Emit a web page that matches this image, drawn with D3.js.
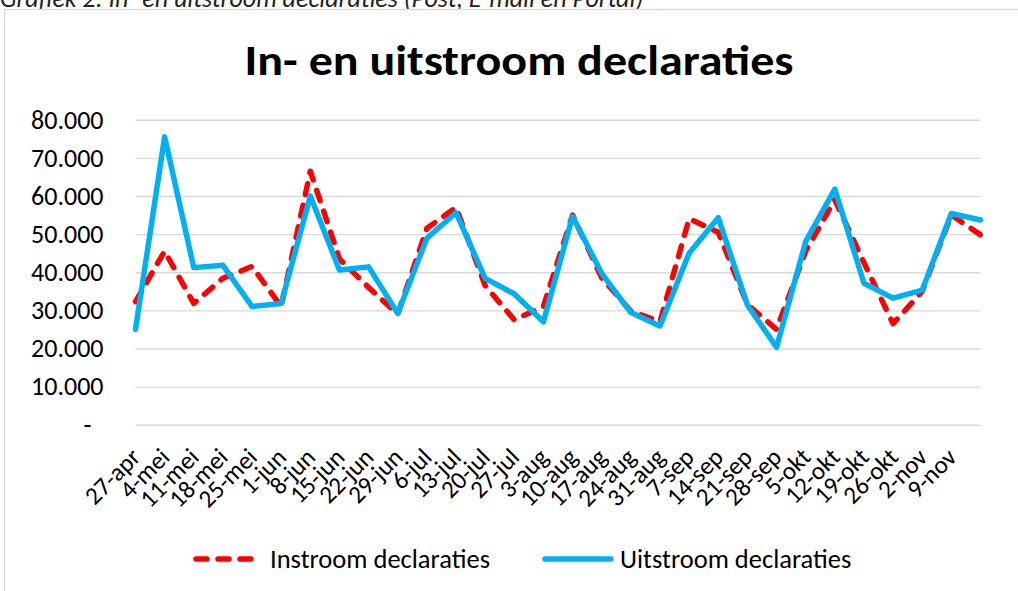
<!DOCTYPE html>
<html><head><meta charset="utf-8">
<script src="https://cdn.jsdelivr.net/npm/d3@7"></script>
<style>body{margin:0;background:#fff;overflow:hidden;} svg{display:block;}</style>
</head><body>
<svg id="chart" width="1018" height="591"></svg>
<script>
const categories = ["27-apr","4-mei","11-mei","18-mei","25-mei","1-jun","8-jun","15-jun","22-jun","29-jun",
  "6-jul","13-jul","20-jul","27-jul","3-aug","10-aug","17-aug","24-aug","31-aug","7-sep",
  "14-sep","21-sep","28-sep","5-okt","12-okt","19-okt","26-okt","2-nov","9-nov",""];
const instroom = [32300, 45500, 31800, 38400, 41500, 31000, 66500, 43500, 36000, 29000,
  51500, 57000, 36500, 27500, 31000, 55000, 38500, 29800, 27000, 54000,
  50500, 31500, 25000, 45500, 59000, 42500, 26500, 35000, 55000, 49800];
const uitstroom = [25000, 75500, 41200, 41800, 31000, 31800, 60000, 40600, 41400, 29200,
  48900, 55600, 38400, 34300, 27000, 54600, 39700, 29400, 25900, 45000,
  54300, 31400, 20300, 48000, 61800, 37100, 33200, 35300, 55400, 53700];
const yTicks = [0, 10000, 20000, 30000, 40000, 50000, 60000, 70000, 80000];
const yTickLabels = ["-", "10.000", "20.000", "30.000", "40.000", "50.000", "60.000", "70.000", "80.000"];
const seriesNames = ["Instroom declaraties", "Uitstroom declaraties"];
const chartTitle = "In- en uitstroom declaraties";
const caption = "Grafiek 2: In- en uitstroom declaraties (Post, E-mail en Portal)";

(function () {
const FONT = "Carlito, Calibri, Lato, 'Open Sans', sans-serif";
const RED = "#FF0000", BLUE = "#00B0F0";
const svg = d3.select("#chart");

// caption (cut off at top, as in the source document)
svg.append("text").attr("x", 0).attr("y", 7)
  .attr("font-family", FONT).attr("font-style", "italic").attr("font-size", 26)
  .attr("fill", "#222").text(caption);

// chart frame
svg.append("rect").attr("x", 4.5).attr("y", 9.5).attr("width", 1200).attr("height", 700)
  .attr("fill", "#fff").attr("stroke", "#d9d9d9").attr("stroke-width", 1.3);

// title
svg.append("text").attr("x", 519).attr("y", 75).attr("text-anchor", "middle")
  .attr("font-family", FONT).attr("font-weight", "bold").attr("font-size", 42)
  .attr("textLength", 549).attr("lengthAdjust", "spacingAndGlyphs")
  .attr("fill", "#000").text(chartTitle);

const pLeft = 135.5, pRight = 980.5, pTop = 119.7, pBottom = 424.7;
const x = d3.scalePoint().domain(d3.range(categories.length)).range([pLeft, pRight]);
const y = d3.scaleLinear().domain([0, 80000]).range([pBottom, pTop]);

// y axis + gridlines
const yAxis = d3.axisLeft(y).tickValues(yTicks)
  .tickSize(-(pRight - pLeft)).tickPadding(32)
  .tickFormat((d, i) => yTickLabels[i]);
const gy = svg.append("g").attr("transform", `translate(${pLeft},0)`).call(yAxis);
gy.select(".domain").remove();
gy.selectAll(".tick line").attr("stroke", "#d9d9d9").attr("stroke-width", 1.4);
gy.selectAll(".tick text").attr("font-family", FONT).attr("font-size", 26).attr("fill", "#000")
  .attr("dx", d => d === 0 ? -12 : 0);

// x axis
const xAxis = d3.axisBottom(x).tickSize(0).tickFormat(i => categories[i]);
const gx = svg.append("g").attr("transform", `translate(0,${pBottom})`).call(xAxis);
gx.select(".domain").remove();
gx.selectAll(".tick text").attr("font-family", FONT).attr("font-size", 25).attr("fill", "#000")
  .attr("text-anchor", "end").attr("x", 6).attr("y", 34).attr("dy", 0)
  .attr("transform", "rotate(-45,6,34)");

// lines
const line = d3.line().x((d, i) => x(i)).y(d => y(d));
svg.append("path").datum(instroom).attr("d", line).attr("fill", "none")
  .attr("stroke", RED).attr("stroke-width", 5.5).attr("stroke-dasharray", "11,11")
  .attr("stroke-linecap", "round").attr("stroke-linejoin", "round");
svg.append("path").datum(uitstroom).attr("d", line).attr("fill", "none")
  .attr("stroke", BLUE).attr("stroke-width", 5.5)
  .attr("stroke-linecap", "round").attr("stroke-linejoin", "round");

// legend
const ly = 559;
const lg = svg.append("g");
lg.append("line").attr("x1", 196).attr("x2", 251).attr("y1", ly).attr("y2", ly)
  .attr("stroke", RED).attr("stroke-width", 5.5).attr("stroke-dasharray", "11,11")
  .attr("stroke-linecap", "round");
lg.append("text").attr("x", 270).attr("y", ly).attr("dy", "0.35em")
  .attr("font-family", FONT).attr("font-size", 26.5).attr("fill", "#000").text(seriesNames[0]);
lg.append("line").attr("x1", 545).attr("x2", 611).attr("y1", ly).attr("y2", ly)
  .attr("stroke", BLUE).attr("stroke-width", 5.5).attr("stroke-linecap", "round");
lg.append("text").attr("x", 620).attr("y", ly).attr("dy", "0.35em")
  .attr("font-family", FONT).attr("font-size", 26.5).attr("fill", "#000").text(seriesNames[1]);
})();
</script>
</body></html>
